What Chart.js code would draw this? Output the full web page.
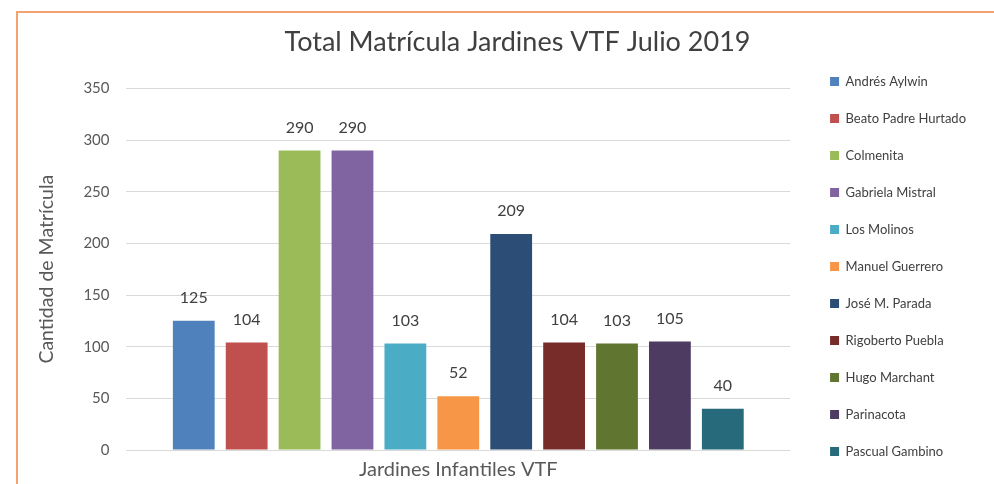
<!DOCTYPE html>
<html>
<head>
<meta charset="utf-8">
<script src="https://cdn.jsdelivr.net/npm/chart.js@4.4.0/dist/chart.umd.min.js"></script>
<style>
  html, body { margin:0; padding:0; background:#fff; }
  #frame {
    position:absolute; left:16px; top:11px; width:978px; height:473px;
    border-top:2px solid #F2A36F; border-left:2px solid #F2A36F;
  }
  #wrap { position:absolute; left:0; top:0; width:976px; height:471px; }
</style>
</head>
<body>
<div id="frame"><div id="wrap"><canvas id="chart"></canvas></div></div>
<script>
const categories = ["Jardines Infantiles VTF"];

const jardines = [
    "Andrés Aylwin", "Beato Padre Hurtado", "Colmenita", "Gabriela Mistral",
    "Los Molinos", "Manuel Guerrero", "José M. Parada", "Rigoberto Puebla",
    "Hugo Marchant", "Parinacota", "Pascual Gambino"
];

const matricula = [125, 104, 290, 290, 103, 52, 209, 104, 103, 105, 40];

const colores = [
    "#4F81BD", "#C0504D", "#9BBB59", "#8064A2", "#4BACC6", "#F79646",
    "#2C4D75", "#772C2A", "#5F7530", "#4D3B62", "#276A7C"
];

const yTicks = [0, 50, 100, 150, 200, 250, 300, 350];

const FONT = "Lato, 'Open Sans', sans-serif";

// ================= LABELS ON BARS =================
const barLabels = {
    id: "barLabels",
    afterDatasetsDraw(chart){
        const ctx = chart.ctx;
        ctx.save();
        ctx.font = "16px " + FONT;
        ctx.fillStyle = "#404040";
        ctx.textAlign = "center";
        ctx.textBaseline = "bottom";
        chart.data.datasets.forEach((ds, i) => {
            const bar = chart.getDatasetMeta(i).data[0];
            ctx.fillText(ds.data[0], bar.x, bar.y - 15);
        });
        ctx.restore();
    }
};

// ================= LAYOUT TWEAKS =================
// more room between plot and legend, title a bit right of centre
const nudges = {
    id: "nudges",
    beforeInit(chart){
        const fit = chart.legend.fit;
        chart.legend.fit = function(){
            fit.call(this);
            this.width += 24;
        };
    },
    afterLayout(chart){
        chart.legend.left += 16;
        chart.titleBlock.left += 10;
        chart.titleBlock.right += 10;
    }
};

const datasets = jardines.map((name, i) => ({
    label: name,
    data: [matricula[i]],
    backgroundColor: colores[i],
    borderWidth: 0
}));

new Chart(document.getElementById("chart"), {
    type: "bar",
    data: { labels: categories, datasets: datasets },
    plugins: [barLabels, nudges],
    options: {
        responsive: true,
        maintainAspectRatio: false,
        animation: false,
        categoryPercentage: 0.877,
        barPercentage: 0.79,
        layout: { padding: { left: 13, right: 10, top: 0, bottom: 2 } },
        plugins: {
            title: {
                display: true,
                text: "Total Matrícula Jardines VTF Julio 2019",
                color: "#404040",
                font: { family: FONT, size: 27, weight: "normal" },
                padding: { top: 13, bottom: 30 }
            },
            legend: {
                position: "right",
                align: "start",
                title: {
                    display: true,
                    text: " ",
                    font: { size: 10, lineHeight: 1 },
                    padding: { top: 0, bottom: 28 }
                },
                labels: {
                    color: "#404040",
                    font: { family: FONT, size: 13 },
                    boxWidth: 9,
                    boxHeight: 9,
                    padding: 24
                }
            },
            tooltip: { enabled: false }
        },
        scales: {
            x: {
                grid: { display: false },
                border: { display: false },
                ticks: { color: "#595959", font: { family: FONT, size: 20 }, padding: 0 }
            },
            y: {
                min: 0,
                max: 350,
                afterBuildTicks(axis){ axis.ticks = yTicks.map(v => ({ value: v })); },
                grid: { color: "#D9D9D9", drawTicks: false },
                border: { display: false },
                ticks: { color: "#595959", font: { family: FONT, size: 15 }, padding: 17 },
                title: {
                    display: true,
                    text: "Cantidad de Matrícula",
                    color: "#595959",
                    font: { family: FONT, size: 19.5 },
                    padding: { bottom: 8 }
                }
            }
        }
    }
});
</script>
</body>
</html>
